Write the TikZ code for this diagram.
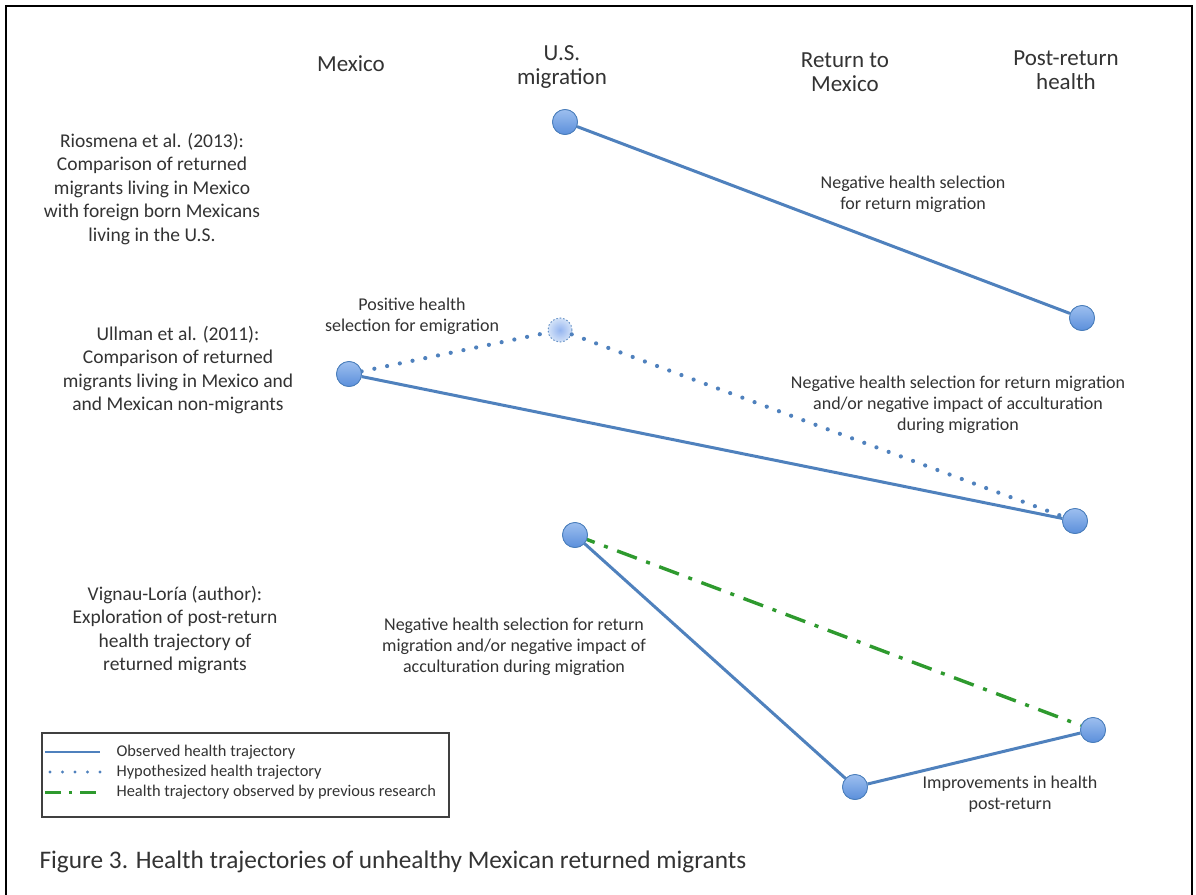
\documentclass[tikz,border=0pt]{standalone}
\usepackage{fontspec}
\setmainfont{Carlito}
\definecolor{lineblue}{HTML}{4F81BD}
\definecolor{circedge}{HTML}{4A7EBB}
\definecolor{circtop}{HTML}{9DBFEF}
\definecolor{circbot}{HTML}{5B8FDB}
\definecolor{txt}{HTML}{333333}
\definecolor{dgreen}{HTML}{2E9A2E}
\tikzset{
  pt/.style={circle, minimum size=25pt, inner sep=0pt, draw=circedge, line width=0.8pt, top color=circtop, bottom color=circbot},
  hypopt/.style={circle, minimum size=24pt, inner sep=0pt, draw=lineblue!85, dash pattern=on 1.5pt off 2pt, line width=1pt, inner color=circtop!95!blue, outer color=circtop!45},
  obs/.style={draw=lineblue, line width=3pt},
  hyp/.style={draw=lineblue, line width=4.2pt, line cap=round, dash pattern=on 0pt off 13pt},
  prev/.style={draw=dgreen, line width=3.4pt, dash pattern=on 21pt off 10pt on 4pt off 10pt},
  hdr/.style={text=txt, align=center, font=\fontsize{23}{24}\selectfont},
  lbl/.style={text=txt, align=center, font=\fontsize{19.5}{23.5}\selectfont},
  note/.style={text=txt, align=center, font=\fontsize{18}{21}\selectfont},
  leg/.style={text=txt, anchor=west, font=\fontsize{16.4}{20}\selectfont},
}
\begin{document}
\begin{tikzpicture}[x=1pt,y=-1pt]
\useasboundingbox (0,0) rectangle (1196,894);
\path[clip] (0,0) rectangle (1196,894);
\fill[white] (0,0) rectangle (1196,894);
\draw[line width=2pt, black] (6,6) rectangle (1192,920);

% headers
\node[hdr] (hmex) at (351,64) {Mexico};
\node[hdr] (hus) at (562,67) {U.S.\\migration};
\node[hdr] (hret) at (845,72) {Return to\\Mexico};
\node[hdr] (hpost) at (1066,70) {Post-return\\health};

% row labels
\node[lbl] (l1) at (152,189) {Riosmena et al. (2013):\\Comparison of returned\\migrants living in Mexico\\with foreign born Mexicans\\living in the U.S.};
\node[lbl] (l2) at (178,370) {Ullman et al. (2011):\\Comparison of returned\\migrants living in Mexico and\\and Mexican non-migrants};
\node[lbl] (l3) at (175,630) {Vignau-Loría (author):\\Exploration of post-return\\health trajectory of\\returned migrants};

% points
\node[pt] (a1) at (565,122) {};
\node[pt] (a2) at (1082,318) {};
\node[pt] (b1) at (349,374) {};
\node[hypopt] (bh) at (560,330) {};
\node[pt] (b2) at (1075,521) {};
\node[pt] (c1) at (575,535) {};
\node[pt] (c2) at (855,787) {};
\node[pt] (c3) at (1093,730) {};

% connectors
\draw[obs] (a1) -- (a2);
\draw[obs] (b1) -- (b2);
\draw[hyp] (b1) -- (bh) -- (b2);
\draw[prev] (c1.center) -- (c3);
\draw[obs] (c1) -- (c2);
\draw[obs] (c2) -- (c3);
% redraw points on top
\node[pt] at (a1) {};
\node[pt] at (a2) {};
\node[pt] at (b1) {};
\node[pt] at (b2) {};
\node[pt] at (c1) {};
\node[pt] at (c2) {};
\node[pt] at (c3) {};

% notes
\node[note] (n1) at (913,194) {Negative health selection\\for return migration};
\node[note] (n2) at (412,316) {Positive health\\selection for emigration};
\node[note] (n3) at (958,405) {Negative health selection for return migration\\and/or negative impact of acculturation\\during migration};
\node[note] (n4) at (514,647) {Negative health selection for return\\migration and/or negative impact of\\acculturation during migration};
\node[note] (n5) at (1010,794) {Improvements in health\\post-return};

% legend
\node[draw=black!75, line width=1.3pt, minimum width=407pt, minimum height=84pt, inner sep=0pt] (legbox) at (245.5,775) {};
\coordinate (s1a) at (45,752); \coordinate (s1b) at (100,752);
\coordinate (s2a) at (50,772); \coordinate (s2b) at (100,772);
\coordinate (s3a) at (45,792); \coordinate (s3b) at (100,792);
\draw[obs, line width=2.6pt] (s1a) -- (s1b);
\draw[hyp, line width=3.4pt, dash pattern=on 0pt off 12.5pt] (s2a) -- (s2b);
\draw[prev, line width=3pt, dash pattern=on 16pt off 8pt on 3pt off 8pt] (s3a) -- (s3b);
\node[leg] (t1) at (113,752) {Observed health trajectory};
\node[leg] (t2) at (113,772) {Hypothesized health trajectory};
\node[leg] (t3) at (113,792) {Health trajectory observed by previous research};

% caption
\node[anchor=west, text=txt, font=\fontsize{25.3}{28}\selectfont] (cap) at (36,862) {Figure 3. Health trajectories of unhealthy Mexican returned migrants};
\end{tikzpicture}
\end{document}
